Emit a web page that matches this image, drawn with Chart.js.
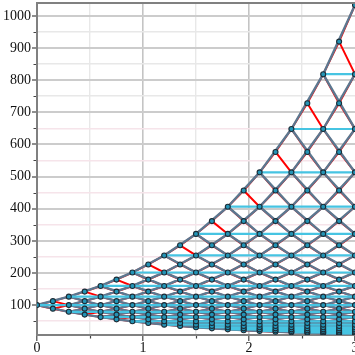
<!DOCTYPE html>
<html><head><meta charset="utf-8">
<script src="https://cdn.jsdelivr.net/npm/chart.js@4.4.0/dist/chart.umd.min.js"></script>
<style>html,body{margin:0;padding:0;background:#fff;overflow:hidden}canvas{display:block}</style>
</head><body>
<canvas id="c" width="355" height="355"></canvas>
<script>
// time of each binomial step (20 steps over 3 years)
const times = [0,0.15,0.3,0.45,0.6,0.75,0.9,1.05,1.2,1.35,1.5,1.65,1.8,1.95,2.1,2.25,2.4,2.55,2.7,2.85,3.0];
// lattice price levels, net level -20 .. +20
const levels = [-20,-19,-18,-17,-16,-15,-14,-13,-12,-11,-10,-9,-8,-7,-6,-5,-4,-3,-2,-1,0,1,2,3,4,5,6,7,8,9,10,11,12,13,14,15,16,17,18,19,20];
const prices = [9.67,10.87,12.22,13.73,15.43,17.34,19.49,21.91,24.62,27.67,31.10,34.95,39.28,44.15,49.62,55.77,62.68,70.44,79.17,88.98,
  100,112.39,126.31,141.96,159.55,179.32,201.53,226.50,254.56,286.10,321.54,361.38,406.15,456.47,513.02,576.58,648.01,728.29,818.52,919.93,1033.9];
const yTickLabels = [100,200,300,400,500,600,700,800,900,1000];
const xTickLabels = [0,1,2,3];

const P = m => prices[levels.indexOf(m)];
const N = times.length - 1;
const GAP = {x: null, y: null};

// binomial edges (red), as polylines of constant down-count and constant up-count
const redPts = [];
for (let d = 0; d <= N; d++) { for (let i = d; i <= N; i++) redPts.push({x: times[i], y: P(i - 2*d)}); redPts.push(GAP); }
for (let u = 0; u <= N; u++) { for (let i = u; i <= N; i++) redPts.push({x: times[i], y: P(2*u - i)}); redPts.push(GAP); }

// trinomial tree on every second step: up/down edges (grey-blue) and middle edges (cyan)
const NT = N / 2;
const grayPts = [];
for (let n = 0; n < NT; n++) {
  for (let j = -n; j <= n; j++) {
    grayPts.push({x: times[2*n], y: P(2*j)}, {x: times[2*n+2], y: P(2*j+2)}, GAP);
    grayPts.push({x: times[2*n], y: P(2*j)}, {x: times[2*n+2], y: P(2*j-2)}, GAP);
  }
}
const cyanPts = [];
for (let j = -NT; j <= NT; j++) {
  for (let n = Math.abs(j); n <= NT; n++) cyanPts.push({x: times[2*n], y: P(2*j)});
  cyanPts.push(GAP);
}
// nodes
const nodePts = [];
for (let i = 0; i <= N; i++) for (let m = -i; m <= i; m += 2) nodePts.push({x: times[i], y: P(m)});

const frame = {
  id: 'frame',
  afterDraw(chart) {
    const {ctx, chartArea: a, scales: {x, y}} = chart;
    ctx.save();
    ctx.strokeStyle = '#808080'; ctx.lineWidth = 2;
    ctx.beginPath(); ctx.moveTo(a.left - 1, a.top); ctx.lineTo(a.right, a.top); ctx.stroke();
    ctx.strokeStyle = '#444'; ctx.lineWidth = 1.2;
    ctx.beginPath();
    for (let v = 50; v < 1040; v += 100) { const py = Math.round(y.getPixelForValue(v)) + 0.5; ctx.moveTo(a.left - 1, py); ctx.lineTo(a.left - 3.5, py); }
    for (let v = 0.5; v < 3; v += 1) { const px = Math.round(x.getPixelForValue(v)) + 0.5; ctx.moveTo(px, a.bottom + 1); ctx.lineTo(px, a.bottom + 3.5); }
    ctx.stroke();
    ctx.restore();
  }
};

const font = {family: "'Liberation Serif','Times New Roman',serif", size: 14};
new Chart(document.getElementById('c'), {
  type: 'scatter',
  data: {datasets: [
    {data: nodePts, showLine: false, pointRadius: 2.5, pointBorderWidth: 1.1, pointBorderColor: '#1c2c36', pointBackgroundColor: '#2494b6', order: 0},
    {data: cyanPts, showLine: true, pointRadius: 0, borderColor: '#46c4e2', borderWidth: 2.2, spanGaps: false, order: 1},
    {data: grayPts, showLine: true, pointRadius: 0, borderColor: '#5c7890', borderWidth: 2.4, spanGaps: false, order: 2},
    {data: redPts, showLine: true, pointRadius: 0, borderColor: '#ff0000', borderWidth: 2, spanGaps: false, order: 3}
  ]},
  options: {
    responsive: false, animation: false, devicePixelRatio: 1,
    layout: {padding: {top: 3, right: 0, bottom: 0, left: 0}, autoPadding: false},
    plugins: {legend: {display: false}, tooltip: {enabled: false}},
    scales: {
      x: {
        type: 'linear', min: 0, max: 3,
        ticks: {stepSize: 0.5, includeBounds: false, autoSkip: false, maxRotation: 0, padding: -1, color: '#111', font,
          callback: v => xTickLabels.includes(v) ? String(v) : ''},
        grid: {
          color: c => (c.tick && (c.tick.value === 0 || c.tick.value === 3)) ? 'transparent' : (Number.isInteger(c.tick && c.tick.value) ? '#c4c4c4' : '#e8e8e8'),
          lineWidth: c => Number.isInteger(c.tick && c.tick.value) ? 1.6 : 1.4,
          tickLength: 6, tickWidth: 1.2,
          tickColor: c => Number.isInteger(c.tick && c.tick.value) ? '#444' : 'transparent'
        },
        border: {display: true, color: '#808080', width: 2},
        afterFit(s) { s.height = 20; s.paddingLeft = 0; s.paddingRight = 0; }
      },
      y: {
        type: 'linear', min: 7, max: 1040,
        ticks: {stepSize: 50, includeBounds: false, autoSkip: false, padding: 1, color: '#111', font,
          callback: v => yTickLabels.includes(v) ? String(v) : ''},
        grid: {
          color: c => yTickLabels.includes(c.tick && c.tick.value) ? '#cccccc' : ((c.tick && c.tick.value) < 700 ? '#f6e4ea' : '#e8e8e8'),
          lineWidth: c => yTickLabels.includes(c.tick && c.tick.value) ? 2 : 1.6,
          tickLength: 5, tickWidth: 1.2,
          tickColor: c => yTickLabels.includes(c.tick && c.tick.value) ? '#444' : 'transparent'
        },
        border: {display: true, color: '#808080', width: 2},
        afterFit(s) { s.width = 37; s.paddingTop = 0; s.paddingBottom = 0; }
      }
    }
  },
  plugins: [frame]
});
</script>
</body></html>
